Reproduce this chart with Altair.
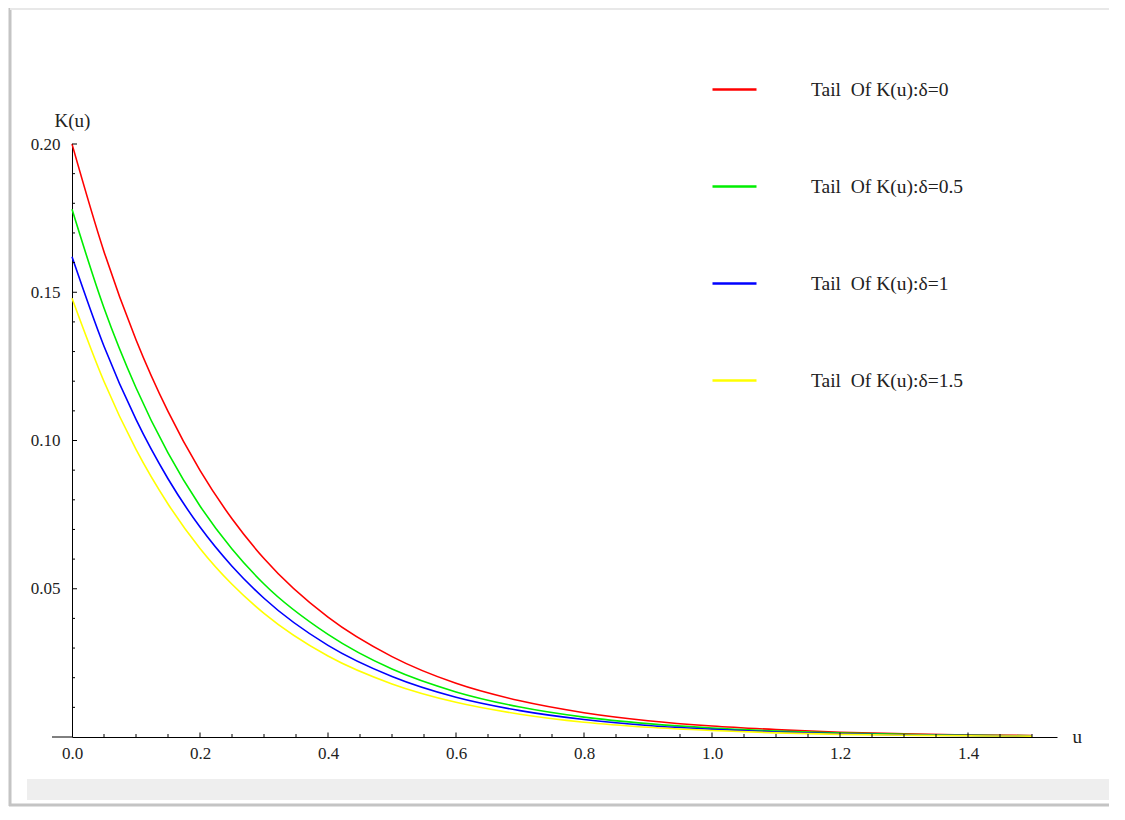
import altair as alt
import pandas as pd

# ---- data ----
u_vals = [0.0, 0.05, 0.1, 0.15, 0.2, 0.25, 0.3, 0.4, 0.5, 0.6, 0.7, 0.8,
          0.9, 1.0, 1.1, 1.2, 1.3, 1.4, 1.5]
k_delta0 = [0.200, 0.1637, 0.1340, 0.1098, 0.0899, 0.0736, 0.0602, 0.0404,
            0.0271, 0.0181, 0.0122, 0.0082, 0.0055, 0.0037, 0.0025, 0.0016,
            0.0011, 0.0007, 0.0005]
k_delta05 = [0.178, 0.1447, 0.1178, 0.0958, 0.0779, 0.0634, 0.0516, 0.0346,
             0.0229, 0.0152, 0.0101, 0.0067, 0.0045, 0.0030, 0.0020, 0.0013,
             0.0009, 0.0006, 0.0004]
k_delta1 = [0.162, 0.1318, 0.1071, 0.0871, 0.0708, 0.0576, 0.0468, 0.0309,
            0.0204, 0.0134, 0.0089, 0.0059, 0.0039, 0.0026, 0.0017, 0.0011,
            0.0007, 0.0005, 0.0003]
k_delta15 = [0.148, 0.1199, 0.0970, 0.0786, 0.0636, 0.0515, 0.0417, 0.0273,
             0.0179, 0.0117, 0.0077, 0.0050, 0.0033, 0.0022, 0.0014, 0.0009,
             0.0006, 0.0004, 0.0003]
NB = "\u00a0"
series_labels = ["Tail" + NB + " Of K(u):δ=0", "Tail" + NB + " Of K(u):δ=0.5",
                 "Tail" + NB + " Of K(u):δ=1", "Tail" + NB + " Of K(u):δ=1.5"]
series_colors = ["#ff0000", "#00ee00", "#0000ff", "#ffff00"]

x_major_ticks = [0.2, 0.4, 0.6, 0.8, 1.0, 1.2, 1.4]
x_minor_ticks = [0.05, 0.1, 0.15, 0.25, 0.3, 0.35, 0.45, 0.5, 0.55, 0.65,
                 0.7, 0.75, 0.85, 0.9, 0.95, 1.05, 1.1, 1.15, 1.25, 1.3,
                 1.35, 1.45, 1.5]
x_label_vals = [0.0, 0.2, 0.4, 0.6, 0.8, 1.0, 1.2, 1.4]
y_major_ticks = [0.05, 0.10, 0.15, 0.20]
y_minor_ticks = [0.01, 0.02, 0.03, 0.04, 0.06, 0.07, 0.08, 0.09, 0.11,
                 0.12, 0.13, 0.14, 0.16, 0.17, 0.18, 0.19]

rows = []
for lab, ys in zip(series_labels, [k_delta0, k_delta05, k_delta1, k_delta15]):
    for u, k in zip(u_vals, ys):
        rows.append({"u": u, "K": k, "series": lab})
df = pd.DataFrame(rows)

W, H = 985, 593
FONT = "Liberation Serif"
TXT = "#222222"

xscale = alt.Scale(domain=[0, W / 640.0], nice=False, zero=False)
yscale = alt.Scale(domain=[0, 0.2], nice=False, zero=False)

x_axis = alt.Axis(values=x_label_vals, format=".1f", ticks=False, tickSize=0,
                  grid=False, domainColor="#000000", domainWidth=1,
                  labelFont=FONT, labelFontSize=17, labelColor=TXT,
                  labelPadding=8, labelFlush=False,
                  title="u", titleFont=FONT, titleFontSize=19,
                  titleFontWeight="normal", titleColor=TXT,
                  titleX=1000, titleY=5, titleAlign="left",
                  titleBaseline="alphabetic", titleAnchor="start")
y_axis = alt.Axis(values=y_major_ticks, format=".2f", ticks=False, tickSize=0,
                  grid=False, domainColor="#000000", domainWidth=1,
                  labelFont=FONT, labelFontSize=17, labelColor=TXT,
                  labelPadding=12, labelFlush=False,
                  title="K(u)", titleFont=FONT, titleFontSize=19,
                  titleFontWeight="normal", titleColor=TXT, titleAngle=0,
                  titleX=-18, titleY=-18, titleAlign="left",
                  titleBaseline="alphabetic", titleAnchor="start")

lines = alt.Chart(df).mark_line(interpolate="monotone", strokeWidth=1.6, clip=False).encode(
    x=alt.X("u:Q", scale=xscale, axis=x_axis, title="u"),
    y=alt.Y("K:Q", scale=yscale, axis=y_axis, title="K(u)"),
    color=alt.Color("series:N",
                    scale=alt.Scale(domain=series_labels, range=series_colors),
                    legend=alt.Legend(orient="none", legendX=639, legendY=-78,
                                      title=None, symbolType="stroke",
                                      symbolSize=1936, symbolStrokeWidth=2.5,
                                      labelOffset=53, rowPadding=64, padding=0,
                                      labelFont=FONT, labelFontSize=19.5,
                                      labelColor=TXT, labelLimit=400,
                                      direction="vertical")),
    order=alt.Order("u:Q"),
)

xmaj = alt.Chart(pd.DataFrame({"u": x_major_ticks})).mark_rule(color="#000000", strokeWidth=1).encode(
    x=alt.X("u:Q", scale=xscale, axis=x_axis, title="u"), y=alt.value(H), y2=alt.value(H - 4.5))
xmin = alt.Chart(pd.DataFrame({"u": x_minor_ticks})).mark_rule(color="#000000", strokeWidth=1).encode(
    x=alt.X("u:Q", scale=xscale, axis=x_axis, title="u"), y=alt.value(H), y2=alt.value(H - 3))
ymaj = alt.Chart(pd.DataFrame({"K": y_major_ticks})).mark_rule(color="#000000", strokeWidth=1).encode(
    y=alt.Y("K:Q", scale=yscale, axis=y_axis, title="K(u)"), x=alt.value(0), x2=alt.value(5))
ymin = alt.Chart(pd.DataFrame({"K": y_minor_ticks})).mark_rule(color="#000000", strokeWidth=1).encode(
    y=alt.Y("K:Q", scale=yscale, axis=y_axis, title="K(u)"), x=alt.value(0), x2=alt.value(3))

one = pd.DataFrame({"a": [0]})
xext = alt.Chart(one).mark_rule(color="#000000", strokeWidth=1).encode(
    x=alt.value(-20), x2=alt.value(0), y=alt.value(H))
band = alt.Chart(one).mark_rect(color="#eeeeee").encode(
    x=alt.value(-45), x2=alt.value(1040), y=alt.value(635), y2=alt.value(656))
left_shadow = alt.Chart(one).mark_rule(color="#c4c4c4", strokeWidth=3).encode(
    x=alt.value(-62), y=alt.value(-136), y2=alt.value(662))
bottom_shadow = alt.Chart(one).mark_rule(color="#c4c4c4", strokeWidth=3).encode(
    x=alt.value(-63), x2=alt.value(1037), y=alt.value(661))
top_line = alt.Chart(one).mark_rule(color="#e8e8e8", strokeWidth=2).encode(
    x=alt.value(-62), x2=alt.value(1037), y=alt.value(-135))

chart = alt.layer(
    lines, xmaj, xmin, ymaj, ymin,
    band, left_shadow, bottom_shadow, top_line, xext,
).properties(
    width=W, height=H,
    autosize=alt.AutoSizeParams(type="none"),
    padding={"left": 64, "top": 136, "right": 52, "bottom": 70},
    background="#ffffff",
).configure_view(stroke=None)

chart.save("out.html", embed_options={"renderer": "svg", "actions": False})
